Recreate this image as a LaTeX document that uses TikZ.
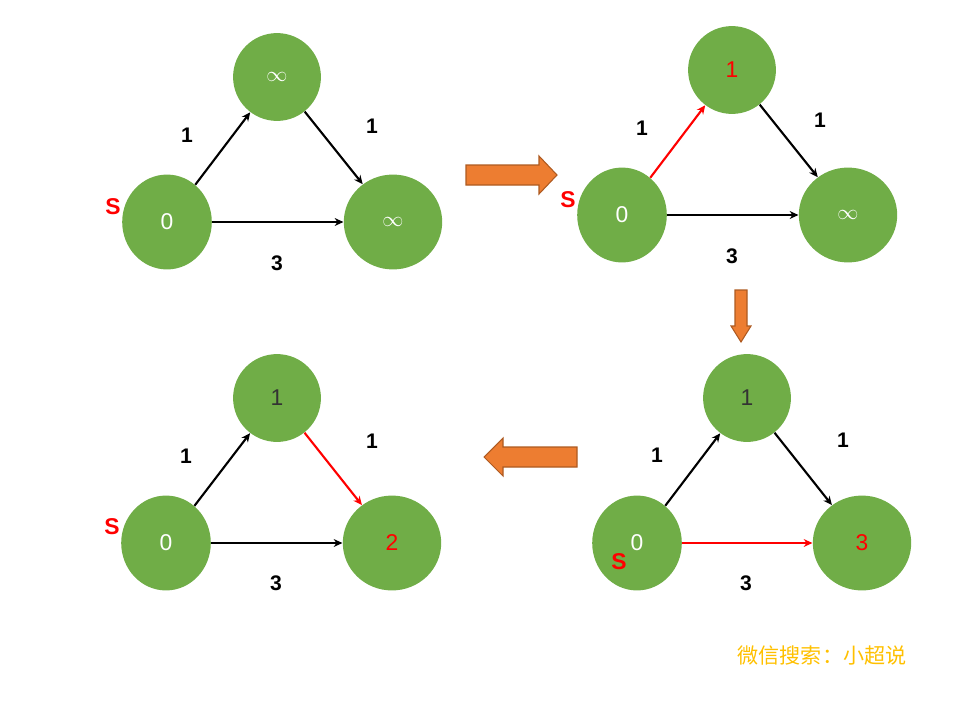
\documentclass[tikz,border=0pt]{standalone}
\usepackage{fontspec}
\setmainfont{Liberation Sans}
\newfontfamily\cjk{Noto Sans CJK SC}
\usetikzlibrary{shapes.geometric,arrows.meta}
\definecolor{gr}{HTML}{70AD47}
\definecolor{og}{HTML}{ED7D31}
\definecolor{ogd}{HTML}{AE5A21}
\definecolor{gold}{HTML}{FFC000}
\tikzset{
 vtx/.style={ellipse,fill=gr,text=white,inner sep=0pt,font=\fontsize{13}{13}\selectfont},
 sm/.style={vtx,minimum width=50pt,minimum height=50pt},
 bg/.style={vtx,minimum width=56pt,minimum height=54pt},
 st/.style={vtx,minimum width=51pt,minimum height=54pt},
 ed/.style={-{Stealth[length=5pt,width=4.5pt]},line width=1.2pt},
 red/.style={ed,draw=red},
 lab/.style={font=\bfseries\fontsize{12}{12}\selectfont},
 sl/.style={text=red,font=\bfseries\fontsize{13}{13}\selectfont},
 bar/.style={fill=og,draw=ogd,line width=0.6pt}
}
\begin{document}
\begin{tikzpicture}[x=0.02cm,y=-0.02cm]
\useasboundingbox (0,0) rectangle (979,703);
% panel 1
\node[st] (a0) at (167,222) {0};
\node[sm] (a1) at (277,77) {$\infty$};
\node[bg] (a2) at (393,222) {$\infty$};
\draw[ed] (a0) -- (a1); \draw[ed] (a1) -- (a2); \draw[ed] (a0) -- (a2);
\node[lab] (al1) at (187,135) {1}; \node[lab] (al2) at (372,126) {1}; \node[lab] (al3) at (277,263) {3};
\node[sl] (as) at (113,207) {S};
% panel 2
\node[st] (b0) at (622,215) {0};
\node[sm] (b1) at (732,70) {\textcolor{red}{1}};
\node[bg] (b2) at (848,215) {$\infty$};
\draw[red] (b0) -- (b1); \draw[ed] (b1) -- (b2); \draw[ed] (b0) -- (b2);
\node[lab] (bl1) at (642,128) {1}; \node[lab] (bl2) at (820,120) {1}; \node[lab] (bl3) at (732,256) {3};
\node[sl] (bs) at (568,200) {S};
% panel 3
\node[st] (c0) at (637,543) {0};
\node[sm] (c1) at (747,398) {\textcolor{black!80}{1}};
\node[bg] (c2) at (862,543) {\textcolor{red}{3}};
\draw[ed] (c0) -- (c1); \draw[ed] (c1) -- (c2); \draw[red] (c0) -- (c2);
\node[lab] (cl1) at (657,455) {1}; \node[lab] (cl2) at (843,440) {1}; \node[lab] (cl3) at (746,583) {3};
\node[sl] (cs) at (619,562) {S};
% panel 4
\node[st] (d0) at (166,543) {0};
\node[sm] (d1) at (277,398) {\textcolor{black!80}{1}};
\node[bg] (d2) at (392,543) {\textcolor{red}{2}};
\draw[ed] (d0) -- (d1); \draw[red] (d1) -- (d2); \draw[ed] (d0) -- (d2);
\node[lab] (dl1) at (186,456) {1}; \node[lab] (dl2) at (372,441) {1}; \node[lab] (dl3) at (276,583) {3};
\node[sl] (ds) at (112,527) {S};
% big arrows
\draw[bar] (466,165) -- (539,165) -- (539,156) -- (557,175) -- (539,194) -- (539,185) -- (466,185) -- cycle;
\draw[bar] (735,290) -- (747,290) -- (747,326) -- (751,326) -- (741,342) -- (731,326) -- (735,326) -- cycle;
\draw[bar] (577,447) -- (503,447) -- (503,438) -- (484,457) -- (503,476) -- (503,467) -- (577,467) -- cycle;
\node[text=gold,font=\cjk\fontsize{12}{12}\selectfont] (wm) at (822,655) {微信搜索：小超说};
\end{tikzpicture}
\end{document}
